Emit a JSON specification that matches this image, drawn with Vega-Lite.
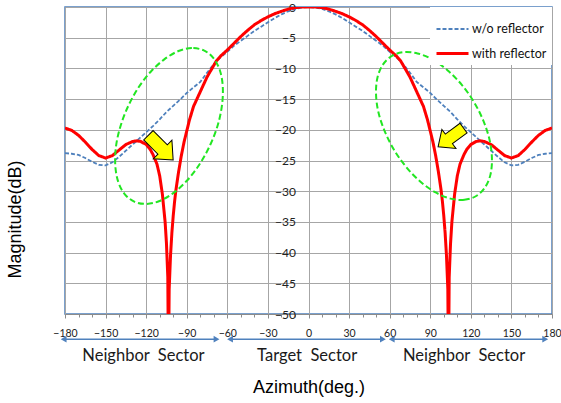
{
  "$schema": "https://vega.github.io/schema/vega-lite/v6.json",
  "autosize": "none",
  "width": 487,
  "height": 307,
  "padding": {"left": 65, "top": 7, "right": 9, "bottom": 89},
  "background": "white",
  "config": {
    "view": {"stroke": "#4f81bd", "strokeWidth": 1.5},
    "axis": {"labelOverlap": false, "labelFlush": false, "labelBound": false}
  },
  "datasets": {
    "pattern": [
      {"series": "w/o reflector", "az": -180, "dB": -23.8},
      {"series": "w/o reflector", "az": -175, "dB": -23.9},
      {"series": "w/o reflector", "az": -170, "dB": -24.1},
      {"series": "w/o reflector", "az": -165, "dB": -24.6},
      {"series": "w/o reflector", "az": -160, "dB": -25.2},
      {"series": "w/o reflector", "az": -155, "dB": -25.7},
      {"series": "w/o reflector", "az": -150, "dB": -25.8},
      {"series": "w/o reflector", "az": -145, "dB": -25.3},
      {"series": "w/o reflector", "az": -140, "dB": -24.4},
      {"series": "w/o reflector", "az": -135, "dB": -23.4},
      {"series": "w/o reflector", "az": -130, "dB": -22.4},
      {"series": "w/o reflector", "az": -125, "dB": -21.4},
      {"series": "w/o reflector", "az": -120, "dB": -20.4},
      {"series": "w/o reflector", "az": -115, "dB": -19.4},
      {"series": "w/o reflector", "az": -110, "dB": -18.3},
      {"series": "w/o reflector", "az": -105, "dB": -17.1},
      {"series": "w/o reflector", "az": -100, "dB": -16.1},
      {"series": "w/o reflector", "az": -95, "dB": -15.1},
      {"series": "w/o reflector", "az": -90, "dB": -14.0},
      {"series": "w/o reflector", "az": -85, "dB": -13.1},
      {"series": "w/o reflector", "az": -80, "dB": -12.2},
      {"series": "w/o reflector", "az": -75, "dB": -10.7},
      {"series": "w/o reflector", "az": -70, "dB": -9.3},
      {"series": "w/o reflector", "az": -65, "dB": -8.2},
      {"series": "w/o reflector", "az": -60, "dB": -7.3},
      {"series": "w/o reflector", "az": -55, "dB": -6.3},
      {"series": "w/o reflector", "az": -50, "dB": -5.5},
      {"series": "w/o reflector", "az": -45, "dB": -4.7},
      {"series": "w/o reflector", "az": -40, "dB": -3.9},
      {"series": "w/o reflector", "az": -35, "dB": -3.2},
      {"series": "w/o reflector", "az": -30, "dB": -2.5},
      {"series": "w/o reflector", "az": -25, "dB": -1.8},
      {"series": "w/o reflector", "az": -20, "dB": -1.2},
      {"series": "w/o reflector", "az": -15, "dB": -0.7},
      {"series": "w/o reflector", "az": -10, "dB": -0.3},
      {"series": "w/o reflector", "az": -5, "dB": -0.1},
      {"series": "w/o reflector", "az": 0, "dB": 0},
      {"series": "w/o reflector", "az": 5, "dB": -0.1},
      {"series": "w/o reflector", "az": 10, "dB": -0.3},
      {"series": "w/o reflector", "az": 15, "dB": -0.7},
      {"series": "w/o reflector", "az": 20, "dB": -1.2},
      {"series": "w/o reflector", "az": 25, "dB": -1.8},
      {"series": "w/o reflector", "az": 30, "dB": -2.5},
      {"series": "w/o reflector", "az": 35, "dB": -3.2},
      {"series": "w/o reflector", "az": 40, "dB": -3.9},
      {"series": "w/o reflector", "az": 45, "dB": -4.7},
      {"series": "w/o reflector", "az": 50, "dB": -5.5},
      {"series": "w/o reflector", "az": 55, "dB": -6.3},
      {"series": "w/o reflector", "az": 60, "dB": -7.3},
      {"series": "w/o reflector", "az": 65, "dB": -8.2},
      {"series": "w/o reflector", "az": 70, "dB": -9.3},
      {"series": "w/o reflector", "az": 75, "dB": -10.7},
      {"series": "w/o reflector", "az": 80, "dB": -12.2},
      {"series": "w/o reflector", "az": 85, "dB": -13.1},
      {"series": "w/o reflector", "az": 90, "dB": -14.0},
      {"series": "w/o reflector", "az": 95, "dB": -15.1},
      {"series": "w/o reflector", "az": 100, "dB": -16.1},
      {"series": "w/o reflector", "az": 105, "dB": -17.1},
      {"series": "w/o reflector", "az": 110, "dB": -18.3},
      {"series": "w/o reflector", "az": 115, "dB": -19.4},
      {"series": "w/o reflector", "az": 120, "dB": -20.4},
      {"series": "w/o reflector", "az": 125, "dB": -21.4},
      {"series": "w/o reflector", "az": 130, "dB": -22.4},
      {"series": "w/o reflector", "az": 135, "dB": -23.4},
      {"series": "w/o reflector", "az": 140, "dB": -24.4},
      {"series": "w/o reflector", "az": 145, "dB": -25.3},
      {"series": "w/o reflector", "az": 150, "dB": -25.8},
      {"series": "w/o reflector", "az": 155, "dB": -25.7},
      {"series": "w/o reflector", "az": 160, "dB": -25.2},
      {"series": "w/o reflector", "az": 165, "dB": -24.6},
      {"series": "w/o reflector", "az": 170, "dB": -24.1},
      {"series": "w/o reflector", "az": 175, "dB": -23.9},
      {"series": "w/o reflector", "az": 180, "dB": -23.8},

      {"series": "with reflector", "az": -180, "dB": -19.7},
      {"series": "with reflector", "az": -175, "dB": -20.1},
      {"series": "with reflector", "az": -170, "dB": -20.9},
      {"series": "with reflector", "az": -165, "dB": -22.0},
      {"series": "with reflector", "az": -160, "dB": -23.2},
      {"series": "with reflector", "az": -155, "dB": -24.2},
      {"series": "with reflector", "az": -150, "dB": -24.6},
      {"series": "with reflector", "az": -145, "dB": -24.2},
      {"series": "with reflector", "az": -140, "dB": -23.3},
      {"series": "with reflector", "az": -135, "dB": -22.4},
      {"series": "with reflector", "az": -130, "dB": -21.9},
      {"series": "with reflector", "az": -127, "dB": -21.8},
      {"series": "with reflector", "az": -124, "dB": -21.9},
      {"series": "with reflector", "az": -120, "dB": -22.4},
      {"series": "with reflector", "az": -117, "dB": -23.2},
      {"series": "with reflector", "az": -115, "dB": -24.0},
      {"series": "with reflector", "az": -112, "dB": -25.6},
      {"series": "with reflector", "az": -110, "dB": -27.5},
      {"series": "with reflector", "az": -108, "dB": -30.5},
      {"series": "with reflector", "az": -106, "dB": -35.0},
      {"series": "with reflector", "az": -105, "dB": -38.5},
      {"series": "with reflector", "az": -104, "dB": -44.0},
      {"series": "with reflector", "az": -103.5, "dB": -60.0},
      {"series": "with reflector", "az": -103, "dB": -46.0},
      {"series": "with reflector", "az": -102, "dB": -40.5},
      {"series": "with reflector", "az": -101, "dB": -36.8},
      {"series": "with reflector", "az": -100, "dB": -34.0},
      {"series": "with reflector", "az": -99, "dB": -31.7},
      {"series": "with reflector", "az": -98, "dB": -29.8},
      {"series": "with reflector", "az": -96, "dB": -26.8},
      {"series": "with reflector", "az": -94, "dB": -24.2},
      {"series": "with reflector", "az": -92, "dB": -22.0},
      {"series": "with reflector", "az": -90, "dB": -20.2},
      {"series": "with reflector", "az": -88, "dB": -18.4},
      {"series": "with reflector", "az": -85, "dB": -16.2},
      {"series": "with reflector", "az": -80, "dB": -13.8},
      {"series": "with reflector", "az": -75, "dB": -11.4},
      {"series": "with reflector", "az": -70, "dB": -9.5},
      {"series": "with reflector", "az": -68, "dB": -8.75},
      {"series": "with reflector", "az": -65, "dB": -8.0},
      {"series": "with reflector", "az": -60, "dB": -7.0},
      {"series": "with reflector", "az": -55, "dB": -5.9},
      {"series": "with reflector", "az": -50, "dB": -4.8},
      {"series": "with reflector", "az": -45, "dB": -3.8},
      {"series": "with reflector", "az": -40, "dB": -2.9},
      {"series": "with reflector", "az": -35, "dB": -2.2},
      {"series": "with reflector", "az": -30, "dB": -1.6},
      {"series": "with reflector", "az": -25, "dB": -1.1},
      {"series": "with reflector", "az": -20, "dB": -0.7},
      {"series": "with reflector", "az": -15, "dB": -0.35},
      {"series": "with reflector", "az": -10, "dB": -0.1},
      {"series": "with reflector", "az": -5, "dB": 0},
      {"series": "with reflector", "az": 0, "dB": 0},
      {"series": "with reflector", "az": 5, "dB": 0},
      {"series": "with reflector", "az": 10, "dB": -0.1},
      {"series": "with reflector", "az": 15, "dB": -0.35},
      {"series": "with reflector", "az": 20, "dB": -0.7},
      {"series": "with reflector", "az": 25, "dB": -1.1},
      {"series": "with reflector", "az": 30, "dB": -1.6},
      {"series": "with reflector", "az": 35, "dB": -2.2},
      {"series": "with reflector", "az": 40, "dB": -2.9},
      {"series": "with reflector", "az": 45, "dB": -3.8},
      {"series": "with reflector", "az": 50, "dB": -4.8},
      {"series": "with reflector", "az": 55, "dB": -5.9},
      {"series": "with reflector", "az": 60, "dB": -7.0},
      {"series": "with reflector", "az": 65, "dB": -8.0},
      {"series": "with reflector", "az": 68, "dB": -8.75},
      {"series": "with reflector", "az": 70, "dB": -9.5},
      {"series": "with reflector", "az": 75, "dB": -11.4},
      {"series": "with reflector", "az": 80, "dB": -13.8},
      {"series": "with reflector", "az": 85, "dB": -16.2},
      {"series": "with reflector", "az": 88, "dB": -18.4},
      {"series": "with reflector", "az": 90, "dB": -20.2},
      {"series": "with reflector", "az": 92, "dB": -22.0},
      {"series": "with reflector", "az": 94, "dB": -24.2},
      {"series": "with reflector", "az": 96, "dB": -26.8},
      {"series": "with reflector", "az": 98, "dB": -29.8},
      {"series": "with reflector", "az": 99, "dB": -31.7},
      {"series": "with reflector", "az": 100, "dB": -34.0},
      {"series": "with reflector", "az": 101, "dB": -36.8},
      {"series": "with reflector", "az": 102, "dB": -40.5},
      {"series": "with reflector", "az": 103, "dB": -46.0},
      {"series": "with reflector", "az": 103.5, "dB": -60.0},
      {"series": "with reflector", "az": 104, "dB": -44.0},
      {"series": "with reflector", "az": 105, "dB": -38.5},
      {"series": "with reflector", "az": 106, "dB": -35.0},
      {"series": "with reflector", "az": 108, "dB": -30.5},
      {"series": "with reflector", "az": 110, "dB": -27.5},
      {"series": "with reflector", "az": 112, "dB": -25.6},
      {"series": "with reflector", "az": 115, "dB": -24.0},
      {"series": "with reflector", "az": 117, "dB": -23.2},
      {"series": "with reflector", "az": 120, "dB": -22.4},
      {"series": "with reflector", "az": 124, "dB": -21.9},
      {"series": "with reflector", "az": 127, "dB": -21.8},
      {"series": "with reflector", "az": 130, "dB": -21.9},
      {"series": "with reflector", "az": 135, "dB": -22.4},
      {"series": "with reflector", "az": 140, "dB": -23.3},
      {"series": "with reflector", "az": 145, "dB": -24.2},
      {"series": "with reflector", "az": 150, "dB": -24.6},
      {"series": "with reflector", "az": 155, "dB": -24.2},
      {"series": "with reflector", "az": 160, "dB": -23.2},
      {"series": "with reflector", "az": 165, "dB": -22.0},
      {"series": "with reflector", "az": 170, "dB": -20.9},
      {"series": "with reflector", "az": 175, "dB": -20.1},
      {"series": "with reflector", "az": 180, "dB": -19.7}
    ],
    "ellipses": [
      {"e": "L", "t": 0, "az": -77.4, "dB": -7.07},
      {"e": "L", "t": 15, "az": -86.2, "dB": -6.69},
      {"e": "L", "t": 30, "az": -96.1, "dB": -7.17},
      {"e": "L", "t": 45, "az": -106.4, "dB": -8.49},
      {"e": "L", "t": 60, "az": -116.6, "dB": -10.54},
      {"e": "L", "t": 75, "az": -125.9, "dB": -13.19},
      {"e": "L", "t": 90, "az": -133.6, "dB": -16.29},
      {"e": "L", "t": 105, "az": -139.2, "dB": -19.58},
      {"e": "L", "t": 120, "az": -142.4, "dB": -22.85},
      {"e": "L", "t": 135, "az": -142.8, "dB": -25.91},
      {"e": "L", "t": 150, "az": -140.6, "dB": -28.5},
      {"e": "L", "t": 165, "az": -135.9, "dB": -30.47},
      {"e": "L", "t": 180, "az": -128.8, "dB": -31.69},
      {"e": "L", "t": 195, "az": -120.0, "dB": -32.07},
      {"e": "L", "t": 210, "az": -110.1, "dB": -31.6},
      {"e": "L", "t": 225, "az": -99.8, "dB": -30.28},
      {"e": "L", "t": 240, "az": -89.6, "dB": -28.22},
      {"e": "L", "t": 255, "az": -80.4, "dB": -25.57},
      {"e": "L", "t": 270, "az": -72.7, "dB": -22.48},
      {"e": "L", "t": 285, "az": -67.0, "dB": -19.19},
      {"e": "L", "t": 300, "az": -63.9, "dB": -15.91},
      {"e": "L", "t": 315, "az": -63.4, "dB": -12.85},
      {"e": "L", "t": 330, "az": -65.6, "dB": -10.26},
      {"e": "L", "t": 345, "az": -70.4, "dB": -8.29},
      {"e": "R", "t": 0, "az": 124.0, "dB": -30.78},
      {"e": "R", "t": 15, "az": 115.3, "dB": -31.4},
      {"e": "R", "t": 30, "az": 105.0, "dB": -31.21},
      {"e": "R", "t": 45, "az": 94.0, "dB": -30.21},
      {"e": "R", "t": 60, "az": 82.8, "dB": -28.47},
      {"e": "R", "t": 75, "az": 72.4, "dB": -26.11},
      {"e": "R", "t": 90, "az": 63.3, "dB": -23.29},
      {"e": "R", "t": 105, "az": 56.3, "dB": -20.21},
      {"e": "R", "t": 120, "az": 51.6, "dB": -17.07},
      {"e": "R", "t": 135, "az": 49.9, "dB": -14.09},
      {"e": "R", "t": 150, "az": 51.0, "dB": -11.47},
      {"e": "R", "t": 165, "az": 55.0, "dB": -9.38},
      {"e": "R", "t": 180, "az": 61.6, "dB": -7.98},
      {"e": "R", "t": 195, "az": 70.2, "dB": -7.36},
      {"e": "R", "t": 210, "az": 80.6, "dB": -7.56},
      {"e": "R", "t": 225, "az": 91.6, "dB": -8.55},
      {"e": "R", "t": 240, "az": 102.7, "dB": -10.29},
      {"e": "R", "t": 255, "az": 113.2, "dB": -12.65},
      {"e": "R", "t": 270, "az": 122.3, "dB": -15.47},
      {"e": "R", "t": 285, "az": 129.3, "dB": -18.55},
      {"e": "R", "t": 300, "az": 133.9, "dB": -21.69},
      {"e": "R", "t": 315, "az": 135.6, "dB": -24.67},
      {"e": "R", "t": 330, "az": 134.5, "dB": -27.3},
      {"e": "R", "t": 345, "az": 130.5, "dB": -29.38}
    ],
    "sectors": [
      {"from": -181, "to": -68},
      {"from": -58, "to": 55},
      {"from": 61.5, "to": 175}
    ],
    "sectorNames": [
      {"az": -122, "name": "Neighbor\u00a0 Sector"},
      {"az": -1, "name": "Target\u00a0 Sector"},
      {"az": 115, "name": "Neighbor\u00a0 Sector"}
    ]
  },
  "resolve": {"axis": {"x": "independent", "y": "independent"}},
  "layer": [
    {
      "data": {"name": "pattern"},
      "mark": {"type": "line", "clip": true},
      "encoding": {
        "x": {
          "field": "az", "type": "quantitative",
          "scale": {"domain": [-180, 180], "nice": false, "zero": false},
          "axis": {
            "orient": "bottom",
            "values": [-180, -150, -120, -90, -60, -30, 0, 30, 60, 90, 120, 150, 180],
            "grid": true, "gridColor": "#a6a6a6", "gridWidth": 1,
            "domain": true, "domainColor": "#8c8c8c",
            "ticks": true, "tickColor": "#8c8c8c", "tickSize": 4,
            "labelFont": "Lato", "labelFontSize": 10.5, "labelColor": "#222", "labelPadding": 10,
            "title": "Azimuth(deg.)", "titleFont": "Liberation Sans", "titleFontSize": 18,
            "titleFontWeight": "normal", "titleColor": "#000", "titleY": 73, "titleBaseline": "middle"
          }
        },
        "y": {
          "field": "dB", "type": "quantitative",
          "scale": {"domain": [-50, 0], "nice": false},
          "axis": {
            "orient": "left",
            "values": [-50, -45, -40, -35, -30, -25, -20, -15, -10, -5, 0],
            "offset": -243.5,
            "grid": true, "gridColor": "#a6a6a6", "gridWidth": 1,
            "domain": false, "ticks": false, "tickSize": 0,
            "labelFont": "Lato", "labelFontSize": 12, "labelColor": "#222", "labelPadding": 13,
            "title": "Magnitude(dB)", "titleFont": "Liberation Sans", "titleFontSize": 18,
            "titleFontWeight": "normal", "titleColor": "#000",
            "titleX": -293.5, "titleY": 212, "titleBaseline": "middle", "titleAngle": -90
          }
        },
        "color": {
          "field": "series", "type": "nominal",
          "scale": {"domain": ["w/o reflector", "with reflector"], "range": ["#4f81bd", "#ff0000"]},
          "legend": {
            "title": null, "orient": "top-right", "offset": 0, "fillColor": "white",
            "padding": 5, "symbolType": "stroke", "symbolSize": 1024,
            "labelFont": "Lato", "labelFontSize": 12.5, "labelColor": "#111",
            "labelOffset": 2, "rowPadding": -7
          }
        },
        "strokeDash": {
          "field": "series", "type": "nominal",
          "scale": {"domain": ["w/o reflector", "with reflector"], "range": [[4, 2], [1, 0]]},
          "legend": {
            "title": null, "orient": "top-right", "offset": 0, "fillColor": "white",
            "padding": 5, "symbolType": "stroke", "symbolSize": 1024,
            "labelFont": "Lato", "labelFontSize": 12.5, "labelColor": "#111",
            "labelOffset": 2, "rowPadding": -7
          }
        },
        "strokeWidth": {
          "field": "series", "type": "nominal",
          "scale": {"domain": ["w/o reflector", "with reflector"], "range": [1.8, 3]},
          "legend": {
            "title": null, "orient": "top-right", "offset": 0, "fillColor": "white",
            "padding": 5, "symbolType": "stroke", "symbolSize": 1024,
            "labelFont": "Lato", "labelFontSize": 12.5, "labelColor": "#111",
            "labelOffset": 2, "rowPadding": -7
          }
        }
      }
    },
    {
      "data": {"name": "ellipses"},
      "mark": {"type": "line", "clip": true, "color": "#22e622", "strokeWidth": 2, "strokeDash": [6, 3], "interpolate": "cardinal-closed"},
      "encoding": {
        "x": {
          "field": "az", "type": "quantitative",
          "scale": {"domain": [-180, 180], "nice": false, "zero": false},
          "axis": {
            "orient": "bottom",
            "values": [-170, -160, -140, -130, -110, -100, -80, -70, -50, -40, -20, -10, 10, 20, 40, 50, 70, 80, 100, 110, 130, 140, 160, 170],
            "labels": false, "grid": false, "domain": false,
            "ticks": true, "tickColor": "#8c8c8c", "tickSize": 3, "title": null
          }
        },
        "y": {"field": "dB", "type": "quantitative", "scale": {"domain": [-50, 0], "nice": false}, "axis": null},
        "detail": {"field": "e", "type": "nominal"},
        "order": {"field": "t", "type": "quantitative"}
      }
    },
    {
      "data": {"values": [{"az": -109.2, "dB": -22.9}]},
      "mark": {"type": "point", "shape": "M-1,-0.38L0.15,-0.38L0.15,-0.75L1,0L0.15,0.75L0.15,0.38L-1,0.38Z", "filled": true, "fill": "#ffff00", "stroke": "#000000", "strokeWidth": 1, "opacity": 1, "size": 1225, "angle": 45, "clip": false},
      "encoding": {
        "x": {"field": "az", "type": "quantitative", "scale": {"domain": [-180, 180], "nice": false, "zero": false}, "axis": null},
        "y": {"field": "dB", "type": "quantitative", "scale": {"domain": [-50, 0], "nice": false}, "axis": null}
      }
    },
    {
      "data": {"values": [{"az": 105.2, "dB": -21.25}]},
      "mark": {"type": "point", "shape": "M-1,-0.38L0.15,-0.38L0.15,-0.75L1,0L0.15,0.75L0.15,0.38L-1,0.38Z", "filled": true, "fill": "#ffff00", "stroke": "#000000", "strokeWidth": 1, "opacity": 1, "size": 1000, "angle": 143.6, "clip": false},
      "encoding": {
        "x": {"field": "az", "type": "quantitative", "scale": {"domain": [-180, 180], "nice": false, "zero": false}, "axis": null},
        "y": {"field": "dB", "type": "quantitative", "scale": {"domain": [-50, 0], "nice": false}, "axis": null}
      }
    },
    {
      "data": {"name": "sectors"},
      "mark": {"type": "rule", "color": "#4f81bd", "strokeWidth": 1.5, "clip": false},
      "encoding": {
        "x": {"field": "from", "type": "quantitative", "scale": {"domain": [-180, 180], "nice": false, "zero": false}, "axis": null},
        "x2": {"field": "to"},
        "y": {"datum": -54.1, "type": "quantitative", "scale": {"domain": [-50, 0], "nice": false}, "axis": null}
      }
    },
    {
      "data": {"name": "sectors"},
      "mark": {"type": "point", "shape": "triangle-left", "filled": true, "color": "#4f81bd", "opacity": 1, "size": 45, "clip": false},
      "encoding": {
        "x": {"field": "from", "type": "quantitative", "scale": {"domain": [-180, 180], "nice": false, "zero": false}, "axis": null},
        "y": {"datum": -54.1, "type": "quantitative", "scale": {"domain": [-50, 0], "nice": false}, "axis": null}
      }
    },
    {
      "data": {"name": "sectors"},
      "mark": {"type": "point", "shape": "triangle-right", "filled": true, "color": "#4f81bd", "opacity": 1, "size": 45, "clip": false},
      "encoding": {
        "x": {"field": "to", "type": "quantitative", "scale": {"domain": [-180, 180], "nice": false, "zero": false}, "axis": null},
        "y": {"datum": -54.1, "type": "quantitative", "scale": {"domain": [-50, 0], "nice": false}, "axis": null}
      }
    },
    {
      "data": {"name": "sectorNames"},
      "mark": {"type": "text", "font": "Lato", "fontSize": 16.5, "color": "#1a1a1a", "baseline": "middle", "align": "center", "clip": false},
      "encoding": {
        "x": {"field": "az", "type": "quantitative", "scale": {"domain": [-180, 180], "nice": false, "zero": false}, "axis": null},
        "y": {"datum": -56.9, "type": "quantitative", "scale": {"domain": [-50, 0], "nice": false}, "axis": null},
        "text": {"field": "name"}
      }
    }
  ]
}
